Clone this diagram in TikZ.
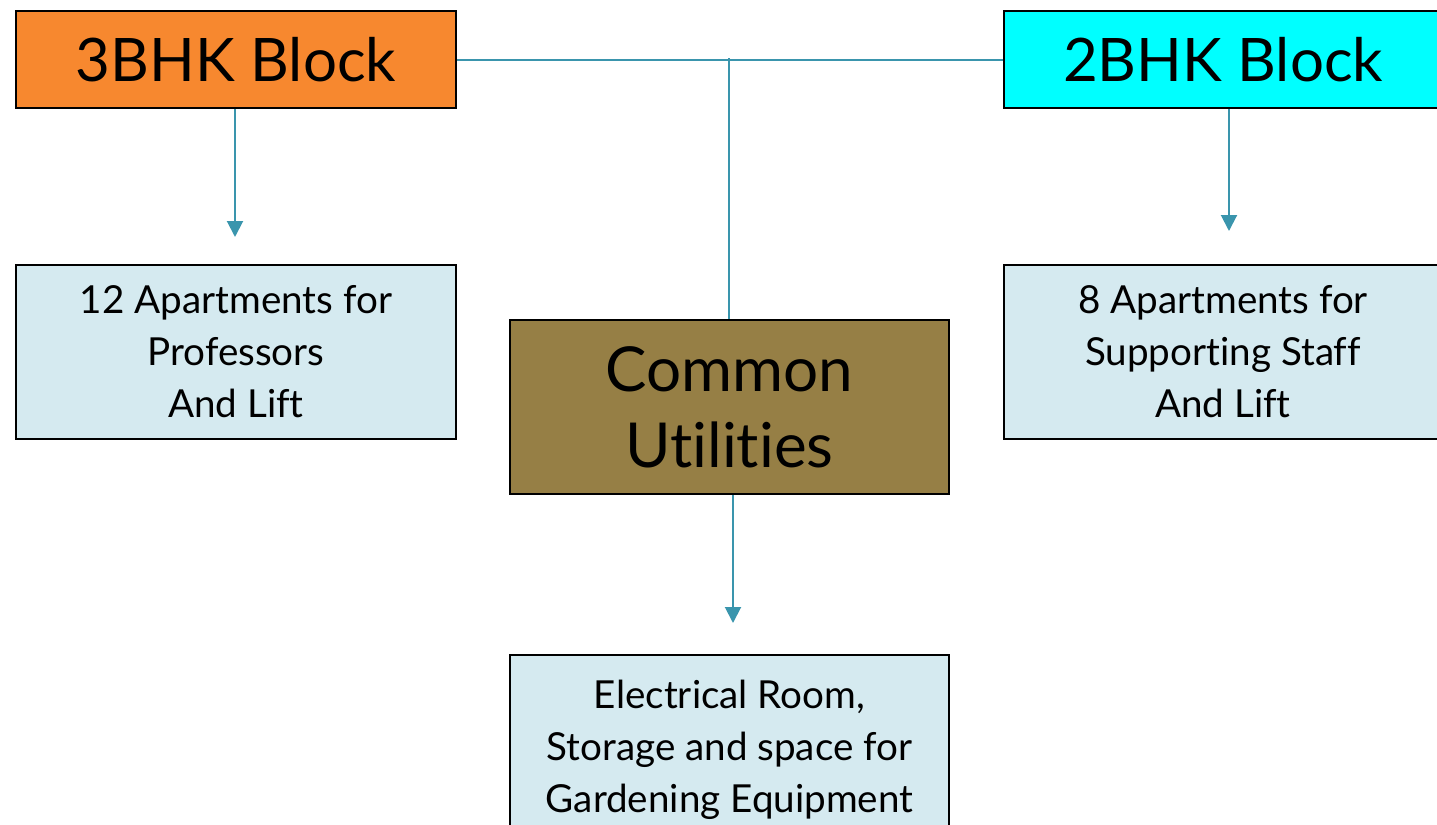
\documentclass[tikz,border=0pt]{standalone}
\usepackage{fontspec}
\setmainfont{Lato}[Ligatures={NoCommon}]
\usetikzlibrary{arrows.meta}
\definecolor{orangebox}{HTML}{F7882F}
\definecolor{cyanbox}{HTML}{00FFFF}
\definecolor{lightbox}{HTML}{D5EAF0}
\definecolor{brownbox}{HTML}{967F45}
\definecolor{conn}{HTML}{3A95AD}
\tikzset{
  box/.style={draw=black, line width=1pt, anchor=north west, inner sep=0pt, align=center, text=black},
  bigbox/.style={box, minimum width=220pt, minimum height=48.5pt, font=\fontsize{30}{38}\selectfont},
  smallbox/.style={box, minimum width=220pt, minimum height=87pt, font=\fontsize{19.3}{26}\selectfont},
  midbox/.style={box, minimum width=219.5pt, minimum height=87pt, font=\fontsize{31}{38}\selectfont},
  link/.style={draw=conn, line width=1pt},
  arr/.style={link, -{Triangle[width=8pt,length=8pt]}}
}
\begin{document}
\begin{tikzpicture}[x=0.5pt,y=-0.5pt]
\useasboundingbox (0,0) rectangle (1437,825);
\clip (0,0) rectangle (1437,825);
\node[bigbox, fill=orangebox] (b3) at (15,10) {3BHK Block};
\node[bigbox, fill=cyanbox, minimum width=225pt] (b2) at (1003,10) {\hspace*{-6pt}2BHK Block};
\node[smallbox, fill=lightbox] (a12) at (15,264) {12 Apartments for\\Professors\\And Lift};
\node[smallbox, fill=lightbox, minimum width=225pt] (a8) at (1003,264) {\hspace*{-6pt}8 Apartments for\\\hspace*{-6pt}Supporting Staff\\\hspace*{-6pt}And Lift};
\node[midbox, fill=brownbox] (cu) at (509,319) {Common\\Utilities};
\node[smallbox, fill=lightbox, minimum width=219.5pt, minimum height=95pt] (el) at (509,654) {\raisebox{8pt}{\parbox{219pt}{\centering Electrical Room,\\Storage and space for\\Gardening Equipment}}};
\coordinate (j) at (729,58);
\draw[link] (b3.east) -- (b2.west);
\draw[link] (j) -- (j |- cu.north);
\coordinate (t3) at (235,237);
\coordinate (t2) at (1229,231);
\coordinate (tc) at (733,623);
\draw[arr] (t3 |- b3.south) -- (t3);
\draw[arr] (t2 |- b2.south) -- (t2);
\draw[arr] (tc |- cu.south) -- (tc);
\end{tikzpicture}
\end{document}
